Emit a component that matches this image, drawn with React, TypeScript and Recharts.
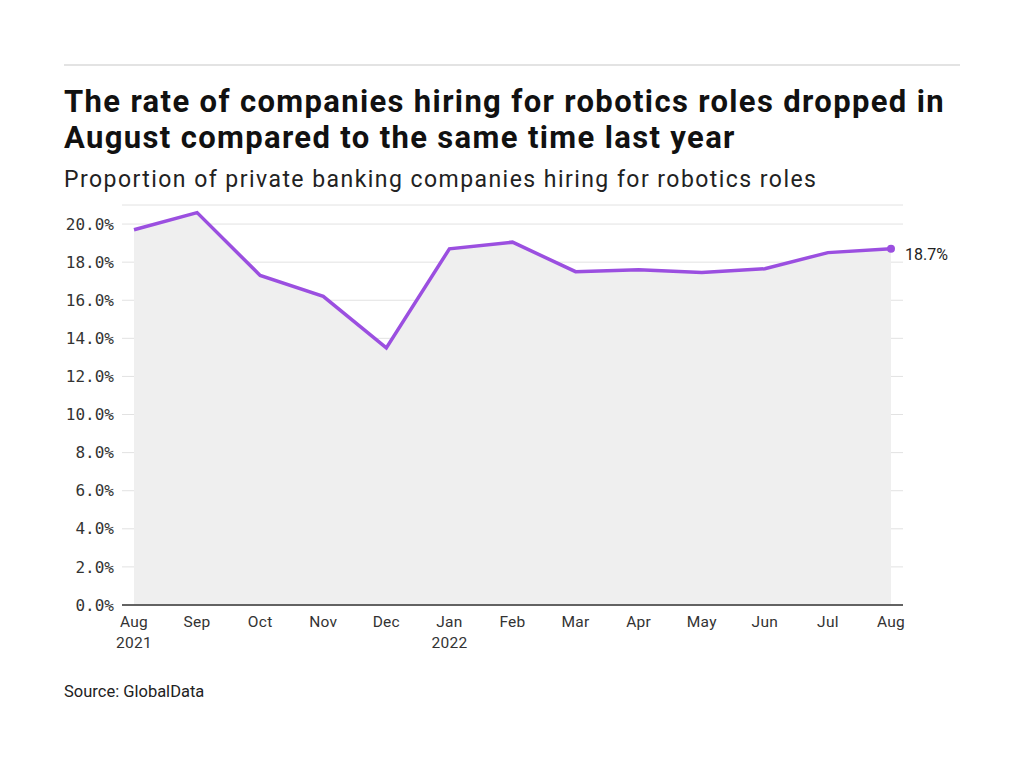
import React from 'react';
import { ComposedChart, Line, Area, XAxis, YAxis, CartesianGrid, LabelList } from 'recharts';

const months = ['Aug', 'Sep', 'Oct', 'Nov', 'Dec', 'Jan', 'Feb', 'Mar', 'Apr', 'May', 'Jun', 'Jul', 'Aug'];
const years = ['2021', '', '', '', '', '2022', '', '', '', '', '', '', ''];
const rates = [19.7, 20.6, 17.3, 16.2, 13.5, 18.7, 19.05, 17.5, 17.6, 17.45, 17.65, 18.5, 18.7];
const yTicks = [0, 2, 4, 6, 8, 10, 12, 14, 16, 18, 20];

const data = months.map((m, i) => ({ key: i, month: m, year: years[i], rate: rates[i] }));

const PURPLE = '#9b4fe0';
const SANS = '"Roboto", "Noto Sans", sans-serif';
const MONO = '"DejaVu Sans Mono", "Liberation Mono", monospace';

function MonthTick(props: any) {
  const { x, y, payload } = props;
  const d = data[payload.value];
  return (
    <g transform={`translate(${x},${y})`}>
      <text x={0} y={0} dy={14} textAnchor="middle" fill="#333" fontSize={15.5} fontFamily={SANS} letterSpacing={0.3}>
        <tspan x={0}>{d.month}</tspan>
        {d.year ? <tspan x={0} dy={21}>{d.year}</tspan> : null}
      </text>
    </g>
  );
}

function LastDot(props: any) {
  const { cx, cy, index } = props;
  if (index !== data.length - 1) return <g key={`d-${index}`} />;
  return <circle key={`d-${index}`} cx={cx} cy={cy} r={4} fill={PURPLE} />;
}

function LastLabel(props: any) {
  const { x, y, index, value } = props;
  if (index !== data.length - 1) return null;
  return (
    <text x={x + 14} y={y + 11} fill="#222" fontSize={16} fontFamily={SANS}>
      {value.toFixed(1)}%
    </text>
  );
}

export default function App() {
  return (
    <div style={{ position: 'absolute', left: 0, top: 0, width: 1024, height: 768, background: '#fff', fontFamily: SANS }}>
      <div style={{ position: 'absolute', left: 64, top: 64, width: 896, borderTop: '2px solid #e3e3e3' }} />
      <div style={{ position: 'absolute', left: 64, top: 84, fontSize: 31, fontWeight: 700, lineHeight: '36px', letterSpacing: 1.35, color: '#111', width: 940, whiteSpace: 'nowrap' }}>
        The rate of companies hiring for robotics roles dropped in
        <br />
        August compared to the same time last year
      </div>
      <div style={{ position: 'absolute', left: 64, top: 166, fontSize: 23, letterSpacing: 1.45, color: '#222', whiteSpace: 'nowrap' }}>
        Proportion of private banking companies hiring for robotics roles
      </div>
      <div style={{ position: 'absolute', left: 0, top: 190 }}>
        <ComposedChart width={1024} height={470} data={data} margin={{ top: 15, right: 121, bottom: 5, left: 0 }}>
          <CartesianGrid vertical={false} stroke="#e2e2e2" strokeWidth={1} />
          <XAxis
            dataKey="key"
            type="category"
            tick={<MonthTick />}
            tickLine={false}
            axisLine={{ stroke: '#333', strokeWidth: 1.5 }}
            padding={{ left: 12, right: 12 }}
            height={50}
            interval={0}
          />
          <YAxis
            domain={[0, 21]}
            ticks={yTicks}
            width={122}
            axisLine={false}
            tickLine={false}
            tick={{ fill: '#333', fontSize: 16, fontFamily: MONO }}
            tickFormatter={(v: number) => `${v.toFixed(1)}%`}
          />
          <Area dataKey="rate" type="linear" stroke="none" fill="#efefef" fillOpacity={1} isAnimationActive={false} />
          <Line dataKey="rate" type="linear" stroke={PURPLE} strokeWidth={3.5} dot={<LastDot />} activeDot={false} isAnimationActive={false}>
            <LabelList dataKey="rate" content={<LastLabel />} />
          </Line>
        </ComposedChart>
      </div>
      <div style={{ position: 'absolute', left: 64, top: 682, fontSize: 16.5, color: '#222' }}>Source: GlobalData</div>
    </div>
  );
}
